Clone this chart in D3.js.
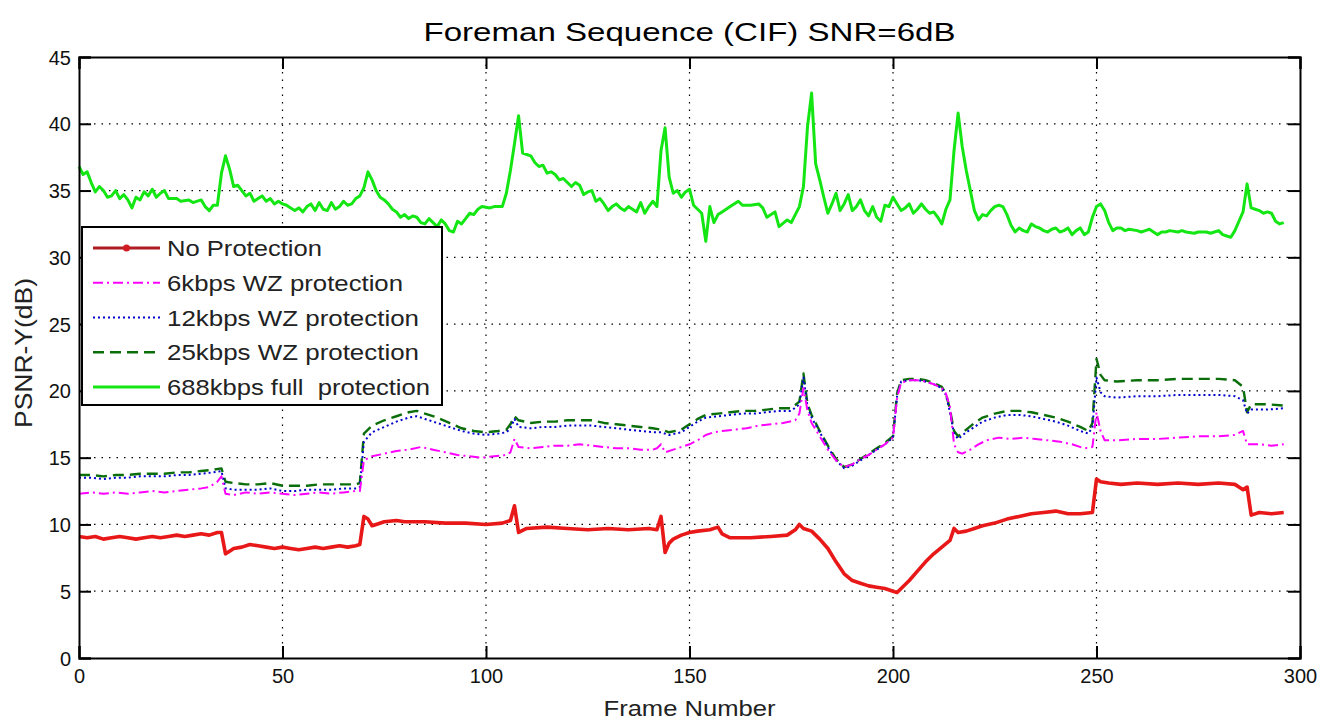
<!DOCTYPE html>
<html>
<head>
<meta charset="utf-8">
<script src="https://cdn.jsdelivr.net/npm/d3@7"></script>
<style>
  html, body { margin: 0; padding: 0; background: #fff; }
  svg { display: block; font-family: "Liberation Sans", Arial, sans-serif; }
</style>
</head>
<body>
<svg id="chart" width="1319" height="724"></svg>
<script>
// ---------------- DATA ----------------
const chartTitle = "Foreman Sequence (CIF) SNR=6dB";
const xLabel = "Frame Number";
const yLabel = "PSNR-Y(dB)";
const xTicks = [0, 50, 100, 150, 200, 250, 300];
const yTicks = [0, 5, 10, 15, 20, 25, 30, 35, 40, 45];
const seriesNames = ["No Protection", "6kbps WZ protection", "12kbps WZ protection", "25kbps WZ protection", "688kbps full  protection"];

// [frame, PSNR-Y] pairs
const noProtection = [[0,9.1],[2,9.0],[4,9.1],[6,8.9],[8,9.0],[10,9.1],[12,9.0],[14,8.9],[16,9.0],[18,9.1],[20,9.0],[22,9.1],[24,9.2],[26,9.1],[28,9.2],[30,9.3],[32,9.2],[34,9.4],[35,9.4],[36,7.8],[37,8.0],[38,8.2],[40,8.3],[42,8.5],[44,8.4],[46,8.3],[48,8.2],[50,8.3],[52,8.2],[54,8.1],[56,8.2],[58,8.3],[60,8.2],[62,8.3],[64,8.4],[66,8.3],[68,8.4],[69,8.5],[70,10.6],[71,10.4],[72,9.9],[73,10.0],[75,10.2],[78,10.3],[80,10.2],[85,10.2],[90,10.1],[95,10.1],[100,10.0],[104,10.1],[106,10.3],[107,11.4],[108,9.4],[110,9.7],[115,9.8],[120,9.7],[125,9.6],[130,9.7],[135,9.6],[140,9.7],[142,9.6],[143,10.6],[144,7.9],[145,8.6],[146,8.9],[148,9.2],[150,9.4],[152,9.5],[155,9.6],[157,9.8],[158,9.3],[160,9.0],[165,9.0],[170,9.1],[174,9.2],[176,9.6],[177,10.0],[178,9.7],[180,9.5],[182,8.9],[184,8.2],[186,7.2],[188,6.3],[190,5.8],[192,5.6],[194,5.4],[196,5.3],[198,5.2],[200,5.0],[201,4.9],[202,5.2],[204,5.8],[206,6.5],[208,7.2],[210,7.8],[212,8.3],[214,8.8],[215,9.7],[216,9.4],[218,9.5],[220,9.7],[222,9.9],[225,10.1],[228,10.4],[231,10.6],[234,10.8],[237,10.9],[240,11.0],[243,10.8],[246,10.8],[249,10.9],[250,13.4],[251,13.2],[253,13.1],[256,13.0],[260,13.1],[265,13.0],[270,13.1],[275,13.0],[280,13.1],[284,13.0],[285,12.8],[286,12.6],[287,12.8],[288,10.7],[290,10.9],[293,10.8],[296,10.9]];

const wz6 = [[0,12.3],[3,12.4],[6,12.3],[9,12.4],[12,12.3],[15,12.4],[18,12.5],[21,12.4],[24,12.5],[27,12.6],[30,12.7],[32,12.8],[34,13.2],[35,13.6],[36,12.3],[38,12.2],[41,12.4],[44,12.3],[47,12.4],[50,12.3],[53,12.2],[56,12.3],[59,12.4],[62,12.3],[65,12.4],[68,12.5],[69,12.5],[70,14.8],[72,15.1],[75,15.3],[78,15.5],[81,15.6],[84,15.8],[87,15.6],[90,15.4],[93,15.2],[96,15.1],[99,15.0],[102,15.1],[105,15.2],[106,15.4],[107,16.4],[108,15.8],[111,15.7],[114,15.8],[117,15.9],[120,15.9],[123,16.0],[126,15.9],[129,15.8],[132,15.7],[135,15.7],[138,15.6],[141,15.6],[142,15.7],[143,16.0],[144,15.4],[146,15.6],[148,15.8],[150,16.0],[152,16.3],[154,16.7],[156,16.9],[158,17.0],[161,17.1],[164,17.2],[167,17.4],[170,17.5],[173,17.6],[176,17.8],[177,18.3],[178,20.2],[179,18.5],[180,17.6],[182,16.6],[184,15.6],[186,14.8],[188,14.3],[190,14.5],[192,14.9],[194,15.2],[196,15.6],[198,16.0],[200,16.5],[201,19.5],[202,20.6],[204,20.8],[206,20.8],[208,20.7],[210,20.5],[212,20.2],[213,19.8],[214,18.8],[215,16.0],[216,15.4],[217,15.3],[219,15.6],[221,16.0],[223,16.3],[226,16.5],[229,16.4],[232,16.5],[235,16.4],[238,16.3],[241,16.2],[244,16.0],[247,15.7],[249,15.8],[250,18.4],[251,17.0],[252,16.3],[255,16.3],[260,16.4],[265,16.4],[270,16.5],[275,16.6],[280,16.6],[284,16.7],[286,17.0],[287,16.0],[290,16.0],[293,15.9],[296,16.0]];

const wz12 = [[0,13.5],[3,13.5],[6,13.4],[9,13.5],[12,13.5],[15,13.6],[18,13.6],[21,13.6],[24,13.7],[27,13.7],[30,13.8],[33,13.9],[35,14.0],[36,12.7],[38,12.6],[41,12.6],[44,12.6],[47,12.7],[50,12.5],[53,12.5],[56,12.6],[59,12.6],[62,12.6],[65,12.7],[68,12.7],[69,12.8],[70,16.2],[72,16.9],[75,17.3],[78,17.7],[81,18.0],[83,18.1],[85,17.9],[88,17.6],[91,17.3],[94,17.0],[97,16.8],[100,16.7],[103,16.8],[105,16.9],[106,17.2],[107,17.9],[108,17.3],[111,17.2],[114,17.3],[117,17.3],[120,17.4],[123,17.4],[126,17.4],[129,17.3],[132,17.2],[135,17.1],[138,17.0],[141,16.9],[143,16.9],[145,16.7],[148,16.9],[150,17.3],[152,17.7],[154,18.0],[157,18.1],[160,18.2],[163,18.3],[166,18.3],[169,18.4],[172,18.5],[175,18.5],[177,19.0],[178,21.0],[179,18.8],[180,18.0],[182,16.9],[184,15.8],[186,14.8],[188,14.2],[190,14.4],[192,14.8],[194,15.2],[196,15.6],[198,16.0],[200,16.5],[201,19.6],[202,20.7],[204,20.8],[206,20.8],[208,20.7],[210,20.5],[212,20.2],[213,19.7],[214,18.4],[215,16.8],[216,16.4],[218,16.9],[220,17.3],[222,17.7],[225,18.0],[228,18.2],[231,18.2],[234,18.1],[237,17.9],[240,17.7],[243,17.4],[246,17.0],[248,16.8],[249,17.3],[250,21.0],[251,19.9],[252,19.6],[255,19.5],[260,19.6],[265,19.6],[270,19.7],[275,19.7],[280,19.7],[284,19.6],[286,19.3],[287,18.3],[288,18.6],[292,18.6],[296,18.7]];

const wz25 = [[0,13.7],[3,13.7],[6,13.6],[9,13.7],[12,13.7],[15,13.8],[18,13.8],[21,13.8],[24,13.9],[27,13.9],[30,14.0],[33,14.1],[35,14.2],[36,13.2],[38,13.1],[41,13.0],[44,13.0],[47,13.1],[50,12.9],[53,12.9],[56,12.9],[59,13.0],[62,13.0],[65,13.0],[68,13.0],[69,13.1],[70,16.8],[72,17.4],[75,17.8],[78,18.1],[81,18.4],[83,18.5],[85,18.3],[88,18.0],[91,17.6],[94,17.2],[97,17.0],[100,16.9],[103,17.0],[105,17.1],[106,17.5],[107,18.1],[108,17.8],[111,17.6],[114,17.7],[117,17.7],[120,17.8],[123,17.8],[126,17.8],[129,17.6],[132,17.5],[135,17.4],[138,17.3],[141,17.2],[143,17.1],[145,16.9],[148,17.1],[150,17.5],[152,17.9],[154,18.2],[157,18.3],[160,18.4],[163,18.5],[166,18.5],[169,18.6],[172,18.7],[175,18.7],[177,19.2],[178,21.3],[179,19.0],[180,18.2],[182,17.0],[184,15.9],[186,14.9],[188,14.3],[190,14.5],[192,14.9],[194,15.3],[196,15.7],[198,16.1],[200,16.6],[201,19.8],[202,20.8],[204,20.9],[206,20.9],[208,20.8],[210,20.6],[212,20.3],[213,19.8],[214,18.6],[215,17.0],[216,16.6],[218,17.1],[220,17.6],[222,18.0],[225,18.3],[228,18.5],[231,18.5],[234,18.4],[237,18.2],[240,18.0],[243,17.7],[246,17.3],[248,17.0],[249,17.6],[250,22.4],[251,21.2],[252,20.8],[255,20.7],[260,20.8],[265,20.8],[270,20.9],[275,20.9],[280,20.9],[284,20.8],[286,20.3],[287,18.4],[288,19.0],[292,19.0],[296,18.9]];

const full688 = [[0,36.8],[1,36.2],[2,36.4],[3,35.6],[4,34.9],[5,35.3],[6,35.0],[7,34.5],[8,34.6],[9,35.0],[10,34.4],[11,34.7],[12,34.3],[13,33.7],[14,34.5],[15,34.3],[16,34.9],[17,34.6],[18,35.1],[19,34.5],[20,34.8],[21,35.0],[22,34.4],[24,34.4],[25,34.2],[27,34.3],[28,34.1],[30,34.3],[31,33.8],[32,33.5],[33,33.9],[34,33.9],[35,36.3],[36,37.6],[37,36.6],[38,35.3],[39,35.4],[40,35.0],[41,34.6],[42,34.8],[43,34.2],[44,34.4],[45,34.6],[46,34.2],[47,34.4],[48,34.0],[49,34.2],[50,34.0],[51,33.9],[52,33.7],[53,33.5],[54,33.7],[55,33.4],[56,33.8],[57,34.0],[58,33.5],[59,34.1],[60,33.6],[61,33.5],[62,34.1],[63,33.6],[64,33.8],[65,34.2],[66,33.9],[67,34.0],[68,34.4],[69,34.6],[70,35.2],[71,36.4],[72,35.8],[73,35.0],[74,34.5],[75,34.3],[76,34.0],[77,33.6],[78,33.4],[79,33.0],[80,33.2],[81,32.9],[82,33.1],[83,33.0],[84,32.6],[85,32.5],[86,32.9],[87,32.6],[88,32.3],[89,32.8],[90,32.5],[91,32.0],[92,31.9],[93,32.7],[94,32.5],[95,32.9],[96,33.3],[97,33.2],[98,33.6],[99,33.8],[101,33.7],[102,33.8],[104,33.8],[105,34.8],[106,36.5],[107,38.5],[108,40.6],[109,37.8],[110,37.7],[111,37.6],[112,37.1],[113,36.8],[114,36.9],[115,36.3],[116,36.4],[117,36.2],[118,35.8],[119,35.9],[120,35.6],[121,35.3],[122,35.6],[123,35.4],[124,34.7],[125,34.9],[126,35.0],[127,34.2],[128,34.4],[129,34.0],[130,33.5],[131,33.8],[132,34.0],[133,33.7],[134,33.5],[135,33.8],[136,33.6],[137,33.4],[138,34.1],[139,33.3],[140,33.8],[141,34.2],[142,33.8],[143,38.0],[144,39.7],[145,36.0],[146,34.8],[147,35.0],[148,34.5],[149,34.9],[150,35.1],[151,33.9],[152,33.6],[153,33.3],[154,31.2],[155,33.8],[156,32.6],[157,33.2],[158,33.4],[160,33.8],[162,34.2],[163,33.9],[165,33.9],[167,34.0],[168,33.7],[169,33.0],[171,33.4],[172,32.3],[174,32.8],[175,32.6],[177,33.8],[178,35.3],[179,39.8],[180,42.3],[181,37.0],[182,35.8],[183,34.5],[184,33.3],[185,34.0],[186,34.8],[187,33.5],[188,34.0],[189,34.7],[190,33.5],[191,33.8],[192,34.3],[193,33.5],[194,33.1],[195,33.8],[196,33.0],[197,32.7],[198,33.9],[199,33.8],[200,34.5],[201,34.0],[202,33.5],[203,33.7],[204,34.0],[205,33.3],[206,33.6],[207,34.0],[208,33.6],[209,33.3],[210,33.4],[211,33.0],[212,32.5],[213,33.6],[214,34.3],[215,38.0],[216,40.8],[217,38.3],[218,36.5],[219,35.0],[220,33.5],[221,32.8],[222,33.2],[223,33.1],[224,33.5],[225,33.8],[226,33.9],[227,33.8],[228,33.2],[229,32.4],[230,31.9],[231,32.2],[232,32.0],[233,31.9],[234,32.5],[235,32.3],[236,32.2],[237,32.0],[238,31.9],[239,32.1],[240,32.2],[241,31.9],[242,32.0],[243,32.2],[244,31.7],[245,32.0],[246,32.2],[247,31.7],[248,31.9],[249,33.0],[250,33.8],[251,34.0],[252,33.5],[253,32.6],[254,32.0],[255,32.2],[256,32.2],[257,32.0],[258,32.1],[260,32.0],[261,31.9],[262,32.0],[263,32.1],[264,31.9],[265,31.7],[266,31.9],[267,31.9],[268,32.0],[270,31.9],[271,32.0],[272,31.9],[274,31.8],[275,31.9],[277,31.9],[278,31.8],[279,31.9],[280,32.0],[281,31.7],[282,31.6],[283,31.5],[284,32.0],[285,32.7],[286,33.4],[287,35.5],[288,33.7],[289,33.6],[290,33.5],[291,33.3],[292,33.4],[293,33.3],[294,32.7],[295,32.5],[296,32.6]];

// ---------------- DRAW ----------------
const svg = d3.select("#chart");
const W = 1319, H = 724;
const plot = { left: 79, right: 1300, top: 57, bottom: 658 };

const x = d3.scaleLinear().domain([0, 300]).range([plot.left, plot.right]);
const y = d3.scaleLinear().domain([0, 45]).range([plot.bottom, plot.top]);

svg.append("rect").attr("width", W).attr("height", H).attr("fill", "#fff");

// grid
const grid = svg.append("g").attr("stroke", "#000").attr("stroke-width", 1.2)
  .attr("stroke-dasharray", "1.5,6");
grid.selectAll(".gx").data(xTicks.filter(t => t > 0 && t < 300)).join("line")
  .attr("x1", d => x(d)).attr("x2", d => x(d))
  .attr("y1", plot.top).attr("y2", plot.bottom);
grid.selectAll(".gy").data(yTicks.filter(t => t > 0 && t < 45)).join("line")
  .attr("x1", plot.left).attr("x2", plot.right)
  .attr("y1", d => y(d)).attr("y2", d => y(d));

// series
const line = d3.line().x(d => x(d[0])).y(d => y(d[1]));
const styles = [
  { data: noProtection, color: "#e81818", width: 3.6, dash: null },
  { data: wz6, color: "#ff00ff", width: 2, dash: "10,4,2,4" },
  { data: wz12, color: "#0000cc", width: 2, dash: "2,3" },
  { data: wz25, color: "#0a6e0a", width: 2.4, dash: "11,6" },
  { data: full688, color: "#14e614", width: 3, dash: null }
];
const order = [4, 3, 2, 1, 0];
const linesG = svg.append("g");
order.forEach(i => {
  const s = styles[i];
  linesG.append("path").datum(s.data)
    .attr("d", line)
    .attr("fill", "none")
    .attr("stroke", s.color)
    .attr("stroke-width", s.width)
    .attr("stroke-linejoin", "round")
    .attr("stroke-dasharray", s.dash);
});

// axes (inward ticks on all sides)
const tickLen = 12;
const axB = svg.append("g").attr("transform", `translate(0,${plot.bottom})`)
  .call(d3.axisBottom(x).tickValues(xTicks).tickSize(-tickLen).tickPadding(10).tickFormat(d3.format("d")));
const axT = svg.append("g").attr("transform", `translate(0,${plot.top})`)
  .call(d3.axisTop(x).tickValues(xTicks).tickSize(-tickLen).tickFormat(""));
const axL = svg.append("g").attr("transform", `translate(${plot.left},0)`)
  .call(d3.axisLeft(y).tickValues(yTicks).tickSize(-tickLen).tickPadding(8).tickFormat(d3.format("d")));
const axR = svg.append("g").attr("transform", `translate(${plot.right},0)`)
  .call(d3.axisRight(y).tickValues(yTicks).tickSize(-tickLen).tickFormat(""));
[axB, axT, axL, axR].forEach(a => {
  a.select(".domain").attr("stroke", "#000").attr("stroke-width", 2);
  a.selectAll(".tick line").attr("stroke", "#000").attr("stroke-width", 2);
  a.selectAll("text").attr("font-size", 20).attr("fill", "#111")
    .attr("font-family", "Liberation Sans, Arial, sans-serif");
});
axB.selectAll("text").attr("dy", "0.75em");
axL.selectAll("text").attr("dy", "0.35em");

// title and axis labels
svg.append("text").attr("x", (plot.left + plot.right) / 2).attr("y", 41)
  .attr("text-anchor", "middle").attr("font-size", 25).attr("fill", "#000")
  .attr("textLength", 532).attr("lengthAdjust", "spacingAndGlyphs")
  .text(chartTitle);
svg.append("text").attr("x", (plot.left + plot.right) / 2).attr("y", 716)
  .attr("text-anchor", "middle").attr("font-size", 22).attr("fill", "#222")
  .attr("textLength", 172).attr("lengthAdjust", "spacingAndGlyphs")
  .text(xLabel);
svg.append("text").attr("transform", `translate(32,353) rotate(-90)`)
  .attr("text-anchor", "middle").attr("font-size", 24).attr("fill", "#222")
  .attr("textLength", 150).attr("lengthAdjust", "spacingAndGlyphs")
  .text(yLabel);

// legend
const lg = svg.append("g");
const box = { x0: 82, y0: 227, x1: 442, y1: 405 };
lg.append("rect").attr("x", box.x0).attr("y", box.y0)
  .attr("width", box.x1 - box.x0).attr("height", box.y1 - box.y0)
  .attr("fill", "#fff").attr("stroke", "#000").attr("stroke-width", 2);
const rowY = d3.scalePoint().domain(d3.range(seriesNames.length)).range([248, 387]);
const legendWidths = [155, 236, 252, 252, 263];
seriesNames.forEach((name, i) => {
  const s = styles[i];
  const yy = rowY(i);
  lg.append("line").attr("x1", 93).attr("x2", 160).attr("y1", yy).attr("y2", yy)
    .attr("stroke", i === 0 ? "#b01c22" : s.color)
    .attr("stroke-width", i === 0 ? 3 : s.width)
    .attr("stroke-dasharray", s.dash);
  if (i === 0) {
    lg.append("circle").attr("cx", 126.5).attr("cy", yy).attr("r", 3.5).attr("fill", "#d01c22");
  }
  lg.append("text").attr("x", 167).attr("y", yy + 8)
    .attr("font-size", 22).attr("fill", "#222")
    .attr("textLength", legendWidths[i]).attr("lengthAdjust", "spacingAndGlyphs")
    .style("white-space", "pre")
    .text(name);
});
</script>
</body>
</html>
